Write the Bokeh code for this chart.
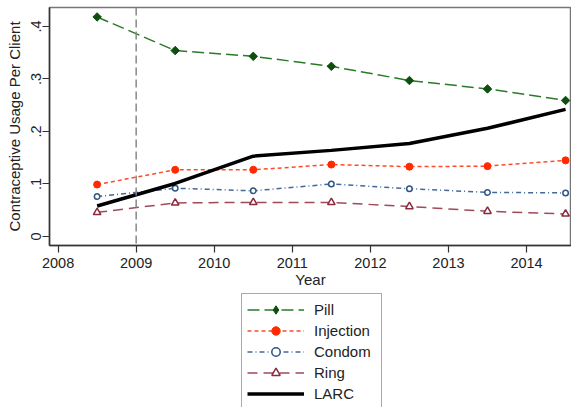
import math
from bokeh.plotting import figure
from bokeh.layouts import column
from bokeh.models import Range1d, FixedTicker, Span, Legend, LegendItem
from bokeh.embed import file_html
from bokeh.resources import INLINE

years = [2008.5, 2009.5, 2010.5, 2011.5, 2012.5, 2013.5, 2014.5]
pill = [0.418, 0.354, 0.343, 0.324, 0.297, 0.281, 0.259]
injection = [0.099, 0.127, 0.127, 0.137, 0.133, 0.134, 0.145]
condom = [0.076, 0.092, 0.087, 0.100, 0.091, 0.084, 0.083]
ring = [0.046, 0.064, 0.065, 0.065, 0.057, 0.048, 0.043]
larc = [0.058, 0.101, 0.153, 0.164, 0.177, 0.206, 0.242]

x_ticks = [2008, 2009, 2010, 2011, 2012, 2013, 2014]
y_ticks = [0, 0.1, 0.2, 0.3, 0.4]
y_tick_labels = ["0", ".1", ".2", ".3", ".4"]
policy_year = 2009

FONT = "Liberation Sans"

series = [
    ("Pill", pill, dict(line_color="#2a7a2a", line_width=1.5, line_dash="12 5"),
     dict(marker="square", size=6, angle=math.pi / 4, fill_color="#0d500d", line_color="#0d500d")),
    ("Injection", injection, dict(line_color="#ff4a2a", line_width=1.5, line_dash="4 3"),
     dict(marker="circle", size=7, fill_color="#ff2a00", line_color="#ff2a00")),
    ("Condom", condom, dict(line_color="#44689a", line_width=1.5, line_dash="5 3 1 3"),
     dict(marker="circle", size=5.5, fill_color="white", line_color="#2e5586", line_width=1.5)),
    ("Ring", ring, dict(line_color="#a04a58", line_width=1.5, line_dash="10 6"),
     dict(marker="triangle", size=7.5, fill_color="white", line_color="#8a2a3c", line_width=1.5)),
    ("LARC", larc, dict(line_color="black", line_width=3.5), None),
]
# legend keys ignore marker rotation, so the key uses Bokeh's diamond
legend_marker_override = {"Pill": dict(marker="diamond", size=10, angle=0)}


def draw(fig, overrides=None):
    items = []
    for name, vals, lstyle, mstyle in series:
        rs = [fig.line(years, vals, **lstyle)]
        if mstyle is not None:
            ms = dict(mstyle)
            if overrides and name in overrides:
                ms.update(overrides[name])
            rs.append(fig.scatter(years, vals, **ms))
        items.append(LegendItem(label=name, renderers=rs))
    return items


# ---- main plot ----
p = figure(width=571, height=291, output_backend="svg", toolbar_location=None,
           x_range=Range1d(2007.89, 2014.576), y_range=Range1d(-0.0171, 0.436),
           min_border_left=49, min_border_right=0, min_border_top=7, min_border_bottom=46)
p.grid.visible = False
p.outline_line_color = "#777777"
p.outline_line_width = 1.5
p.background_fill_color = "white"

for ax in (p.xaxis[0], p.yaxis[0]):
    ax.axis_line_color = "#333333"
    ax.axis_line_width = 1.5
    ax.major_tick_line_color = "#333333"
    ax.major_tick_line_width = 1.2
    ax.major_tick_out = 7
    ax.major_tick_in = 0
    ax.minor_tick_line_color = None
    ax.major_label_text_font = FONT
    ax.major_label_text_font_size = "14.5px"
    ax.major_label_text_color = "#222222"
    ax.axis_label_text_font = FONT
    ax.axis_label_text_font_size = "15px"
    ax.axis_label_text_font_style = "normal"
    ax.axis_label_text_color = "#222222"

p.xaxis.ticker = FixedTicker(ticks=x_ticks)
p.xaxis.axis_label = "Year"
p.xaxis.major_label_standoff = 5
p.xaxis.axis_label_standoff = 0

p.yaxis.ticker = FixedTicker(ticks=y_ticks)
p.yaxis.major_label_overrides = {t: l for t, l in zip(y_ticks, y_tick_labels)}
p.yaxis.major_label_orientation = "vertical"
p.yaxis.axis_label = "Contraceptive Usage Per Client"
p.yaxis.major_label_standoff = 1
p.yaxis.axis_label_standoff = 6

p.add_layout(Span(location=policy_year, dimension="height", line_color="#888888",
                  line_width=1.5, line_dash="8 4"))
draw(p)

# ---- legend panel (series drawn outside its view; only the key shows) ----
lf = figure(width=571, height=116, output_backend="svg", toolbar_location=None,
            x_range=Range1d(0, 1), y_range=Range1d(0, 1),
            x_axis_location=None, y_axis_location=None,
            min_border_left=0, min_border_right=0, min_border_top=0, min_border_bottom=0)
lf.grid.visible = False
lf.outline_line_color = None
items = draw(lf, legend_marker_override)

legend = Legend(items=items, location=(192, -3))
legend.glyph_width = 57
legend.glyph_height = 21
legend.label_height = 21
legend.label_width = 62
legend.label_standoff = 10
legend.spacing = 0
legend.padding = 5
legend.margin = 0
legend.label_text_font = FONT
legend.label_text_font_size = "15px"
legend.label_text_color = "#222222"
legend.border_line_color = "#555555"
legend.border_line_width = 1
legend.background_fill_color = "white"
legend.background_fill_alpha = 1
lf.add_layout(legend, "center")

layout = column(p, lf, spacing=0)
open("out.html", "w").write(file_html(layout, INLINE))
